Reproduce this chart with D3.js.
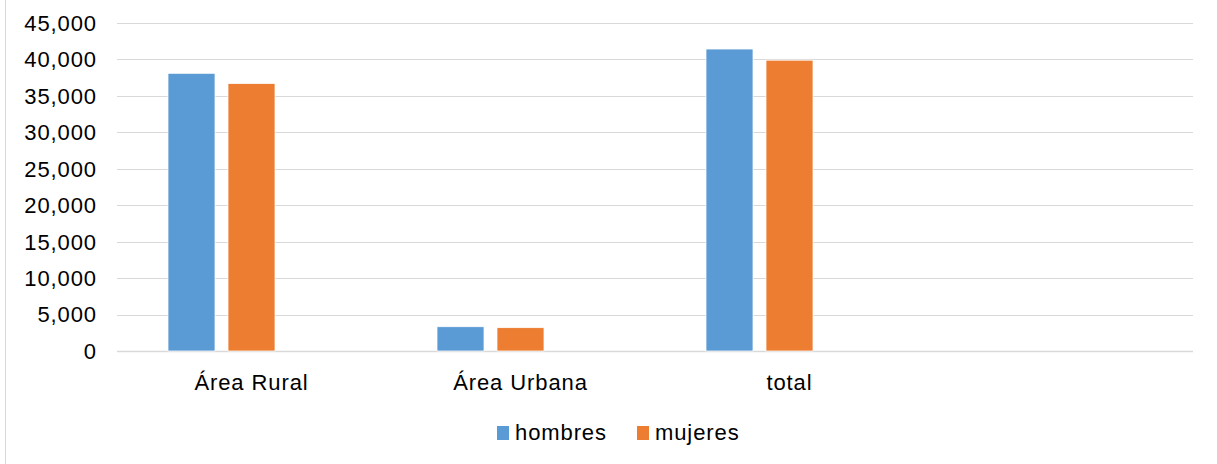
<!DOCTYPE html>
<head>
    <meta charset="utf-8">
    <title>hombres / mujeres</title>
    <script src="https://d3js.org/d3.v7.min.js"></script>
</head>
<style>
body {
  margin: 0;
  background: #fff;
  font-family: "Liberation Sans", Arial, Helvetica, sans-serif;
}
text {
  letter-spacing: 0.9px;
}
</style>
<body>
    <svg></svg>
</body>

<script>

    // Data
    var categories = ["Área Rural", "Área Urbana", "total", ""];
    var seriesNames = ["hombres", "mujeres"];
    var hombres = [38100, 3330, 41430, null];
    var mujeres = [36700, 3200, 39900, null];
    var yTicks = [0, 5000, 10000, 15000, 20000, 25000, 30000, 35000, 40000, 45000];

    var colors = {hombres: "#5B9BD5", mujeres: "#ED7D31"};

    // Variables
    var width = 1217;
    var height = 464;
    var plotLeft = 117, plotRight = 1193, plotTop = 23, plotBottom = 351;
    var fontSize = 22;

    var svg = d3.select('svg')
        .attr('width', width)
        .attr('height', height);

    // chart frame (only the left edge shows)
    svg.append('line')
        .attr('x1', 5.5).attr('x2', 5.5)
        .attr('y1', 0).attr('y2', height)
        .attr('stroke', '#d9d9d9');

    var y = d3.scaleLinear()
        .domain([0, 45000])
        .range([plotBottom, plotTop]);

    var x0 = d3.scaleBand()
        .domain(d3.range(categories.length))
        .range([plotLeft, plotRight]);

    // third (empty) slot keeps the pair left of the category centre, as in the original
    var x1 = d3.scaleBand()
        .domain(["hombres", "mujeres", "_"])
        .range([51, 218])
        .paddingInner(13 / 60);

    // Gridlines
    svg.append('g')
        .selectAll('line')
        .data(yTicks)
        .enter().append('line')
        .attr('x1', plotLeft).attr('x2', plotRight)
        .attr('y1', function (d) { return Math.round(y(d)) + 0.5; })
        .attr('y2', function (d) { return Math.round(y(d)) + 0.5; })
        .attr('stroke', '#d9d9d9')
        .attr('stroke-width', function (d) { return d === 0 ? 1.5 : 1; });

    // Y axis labels
    svg.append('g')
        .selectAll('text')
        .data(yTicks)
        .enter().append('text')
        .attr('x', 97)
        .attr('y', function (d) { return y(d); })
        .attr('dy', '0.36em')
        .attr('text-anchor', 'end')
        .attr('font-size', fontSize)
        .attr('fill', '#000')
        .text(function (d) { return d3.format(",")(d); });

    // Bars
    var rows = categories.map(function (c, i) {
        return {i: i, values: [
            {key: "hombres", value: hombres[i]},
            {key: "mujeres", value: mujeres[i]}
        ]};
    });

    svg.append('g')
        .selectAll('g')
        .data(rows)
        .enter().append('g')
        .attr('transform', function (d) { return 'translate(' + x0(d.i) + ',0)'; })
        .selectAll('rect')
        .data(function (d) { return d.values.filter(function (v) { return v.value != null; }); })
        .enter().append('rect')
        .attr('x', function (d) { return x1(d.key); })
        .attr('width', x1.bandwidth())
        .attr('y', function (d) { return y(d.value); })
        .attr('height', function (d) { return plotBottom - y(d.value); })
        .attr('fill', function (d) { return colors[d.key]; })
        .attr('stroke', '#fff')
        .attr('stroke-width', 0.75);

    // X labels
    svg.append('g')
        .selectAll('text')
        .data(categories)
        .enter().append('text')
        .attr('x', function (d, i) { return x0(i) + x0.bandwidth() / 2; })
        .attr('y', 390)
        .attr('text-anchor', 'middle')
        .attr('font-size', fontSize)
        .attr('fill', '#000')
        .text(function (d) { return d; });

    // Legend
    var legendX = [497, 637];
    var legend = svg.append('g')
        .selectAll('g')
        .data(seriesNames)
        .enter().append('g')
        .attr('transform', function (d, i) { return 'translate(' + legendX[i] + ',426)'; });

    legend.append('rect')
        .attr('width', 12).attr('height', 14)
        .attr('fill', function (d) { return colors[d]; });

    legend.append('text')
        .attr('x', 18)
        .attr('y', 14)
        .attr('font-size', fontSize)
        .attr('fill', '#000')
        .text(function (d) { return d; });

</script>
